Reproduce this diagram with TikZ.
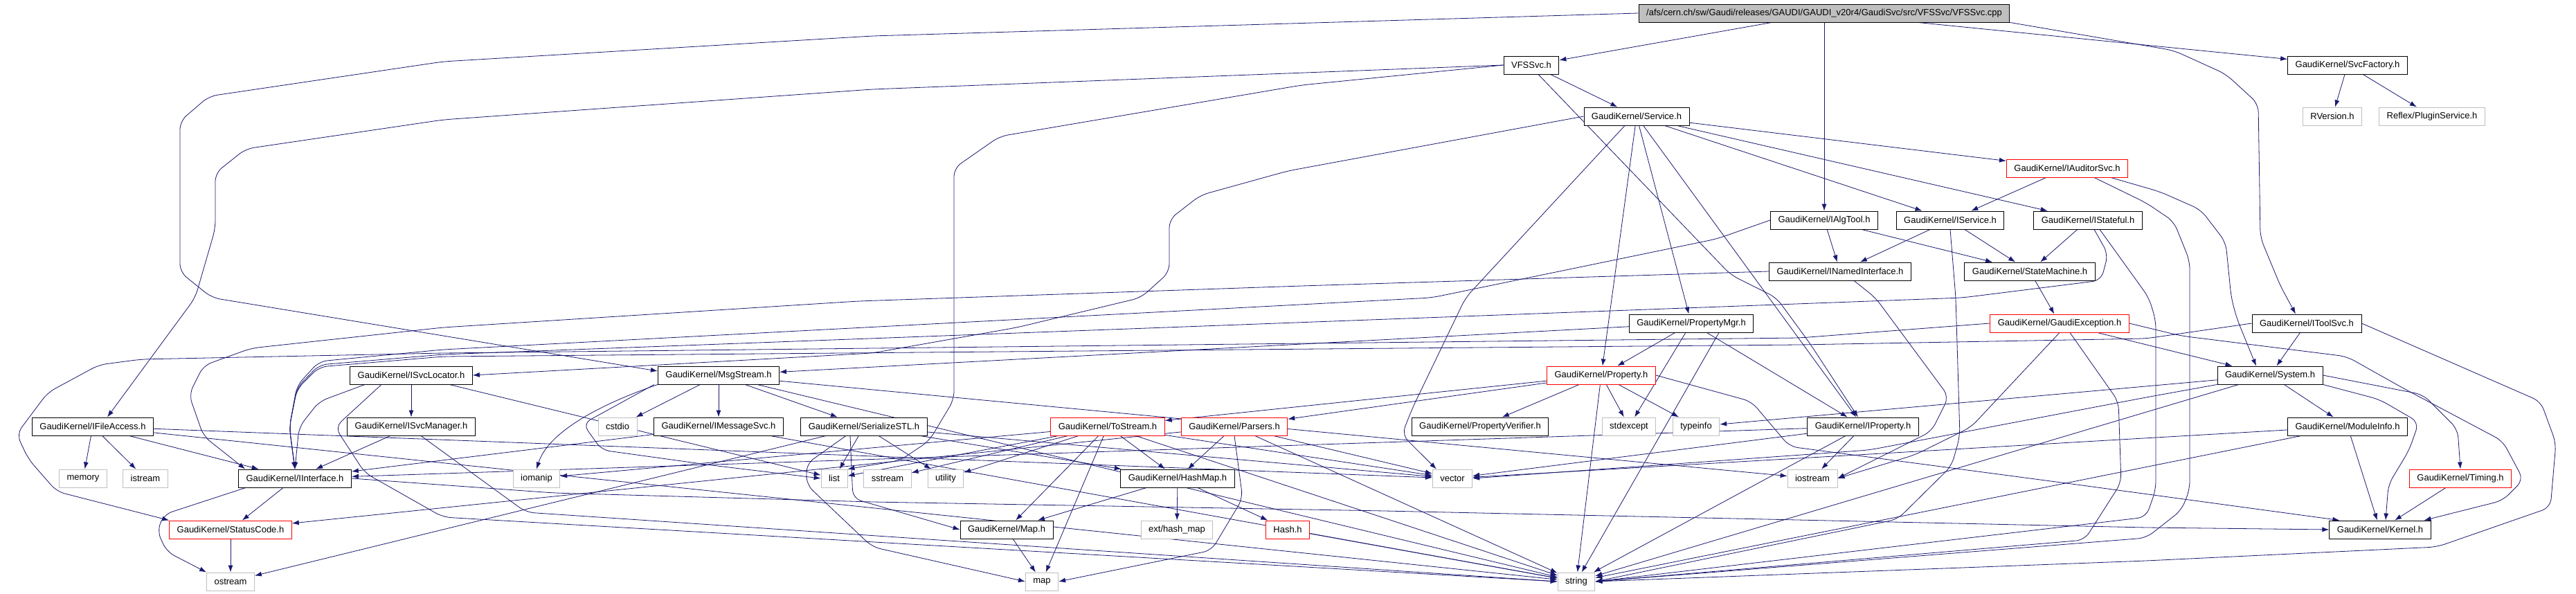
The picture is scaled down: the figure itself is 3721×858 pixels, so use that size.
\documentclass[tikz,border=0pt]{standalone}
\usepackage{fontspec}
\setmainfont{Liberation Sans}
\usetikzlibrary{arrows.meta}
\definecolor{edgeblue}{HTML}{191970}
\definecolor{extgray}{HTML}{BFBFBF}
\pgfdeclarelayer{edges}
\pgfsetlayers{edges,main}

\begin{document}
\begin{tikzpicture}[
  x=1pt, y=-1pt,
  incl/.style={rectangle, draw=black, line width=0.9pt, fill=white,
               minimum height=26pt, inner xsep=11pt, inner ysep=0pt,
               font=\fontsize{13}{15}\selectfont},
  stdinc/.style={incl, draw=extgray},
  redinc/.style={incl, draw=red},
  srcfile/.style={incl, fill=extgray},
  dep/.style={draw=edgeblue, line width=0.8pt, -{Latex[length=10pt, width=7pt]}},
  longdep/.style={dep, rounded corners=12pt},
]
\useasboundingbox (0,0) rectangle (3721,858);

\node[srcfile] (root) at (2635,19) {/afs/cern.ch/sw/Gaudi/releases/GAUDI/GAUDI\_v20r4/GaudiSvc/src/VFSSvc/VFSSvc.cpp};
\node[incl] (vfssvc) at (2212,94) {VFSSvc.h};
\node[incl] (svcfactory) at (3391,94) {GaudiKernel/SvcFactory.h};
\node[incl] (service) at (2364,168) {GaudiKernel/Service.h};
\node[stdinc] (rversion) at (3369,168) {RVersion.h};
\node[stdinc] (plugin) at (3513,168) {Reflex/PluginService.h};
\node[redinc] (iauditor) at (2986,243) {GaudiKernel/IAuditorSvc.h};
\node[incl] (ialgtool) at (2635,318) {GaudiKernel/IAlgTool.h};
\node[incl] (iservice) at (2817,318) {GaudiKernel/IService.h};
\node[incl] (istateful) at (3016,318) {GaudiKernel/IStateful.h};
\node[incl] (inamed) at (2658,392) {GaudiKernel/INamedInterface.h};
\node[incl] (statemachine) at (2932,392) {GaudiKernel/StateMachine.h};
\node[incl] (propertymgr) at (2443,467) {GaudiKernel/PropertyMgr.h};
\node[redinc] (gaudiexc) at (2975,467) {GaudiKernel/GaudiException.h};
\node[incl] (itoolsvc) at (3332,467) {GaudiKernel/IToolSvc.h};
\node[incl] (isvclocator) at (594,542) {GaudiKernel/ISvcLocator.h};
\node[incl] (msgstream) at (1038,542) {GaudiKernel/MsgStream.h};
\node[redinc] (property) at (2313,542) {GaudiKernel/Property.h};
\node[incl] (system) at (3279,542) {GaudiKernel/System.h};
\node[incl] (ifileaccess) at (134,616) {GaudiKernel/IFileAccess.h};
\node[incl] (isvcmanager) at (594,616) {GaudiKernel/ISvcManager.h};
\node[stdinc] (stdcstdio) at (892,616) {cstdio};
\node[incl] (imessagesvc) at (1038,616) {GaudiKernel/IMessageSvc.h};
\node[incl] (serialize) at (1248,616) {GaudiKernel/SerializeSTL.h};
\node[redinc] (tostream) at (1600,616) {GaudiKernel/ToStream.h};
\node[redinc] (parsers) at (1783,616) {GaudiKernel/Parsers.h};
\node[incl] (propverifier) at (2138,616) {GaudiKernel/PropertyVerifier.h};
\node[stdinc] (stdexcept) at (2353,616) {stdexcept};
\node[stdinc] (stdtypeinfo) at (2450,616) {typeinfo};
\node[incl] (iproperty) at (2691,616) {GaudiKernel/IProperty.h};
\node[incl] (moduleinfo) at (3391,616) {GaudiKernel/ModuleInfo.h};
\node[stdinc] (stdmemory) at (120,691) {memory};
\node[stdinc] (stdistream) at (210,691) {istream};
\node[incl] (iinterface) at (426,691) {GaudiKernel/IInterface.h};
\node[stdinc] (stdiomanip) at (775,691) {iomanip};
\node[stdinc] (stdlist) at (1205,691) {list};
\node[stdinc] (stdsstream) at (1282,691) {sstream};
\node[stdinc] (stdutility) at (1366,691) {utility};
\node[incl] (hashmap) at (1701,691) {GaudiKernel/HashMap.h};
\node[stdinc] (stdvector) at (2098,691) {vector};
\node[stdinc] (stdiostream) at (2618,691) {iostream};
\node[redinc] (timing) at (3554,691) {GaudiKernel/Timing.h};
\node[redinc] (statuscode) at (333,765) {GaudiKernel/StatusCode.h};
\node[incl] (maph) at (1454,765) {GaudiKernel/Map.h};
\node[stdinc] (exthashmap) at (1700,765) {ext/hash\_map};
\node[redinc] (hash) at (1860,765) {Hash.h};
\node[incl] (kernel) at (3438,765) {GaudiKernel/Kernel.h};
\node[stdinc] (stdostream) at (333,840) {ostream};
\node[stdinc] (stdmap) at (1505,840) {map};
\node[stdinc] (stdstring) at (2277,840) {string};

\begin{pgfonlayer}{edges}
% VFSSvc.cpp
\draw[dep] (root) -- (vfssvc);
\draw[dep] (root) -- (ialgtool);
\draw[dep] (root) -- (svcfactory);
\draw[longdep] (root.south east) -- (3140,73) -- (3215,107) -- (3262,150) -- (3265,343) -- (3294,413) -- ([xshift=-16pt]itoolsvc.north);
\draw[longdep] (root.west) -- (1260,52) -- (640,89) -- (302,139) -- (260,175) -- (260,393) -- (306,430) -- ([yshift=6pt]msgstream.west);

% VFSSvc.h
\draw[dep] (vfssvc) -- (service);
\draw[longdep] (vfssvc.west) -- (1260,129) -- (640,173) -- (355,215) -- (311,250) -- (311,330) -- (282,430) -- ([xshift=21pt]ifileaccess.north);
\draw[longdep] (vfssvc.west) -- (1880,123) -- (1444,197) -- (1378,243) -- (1378,577) -- (1342,637) -- (1300,665) -- (stdlist.north east);
\draw[longdep] ([xshift=10pt]vfssvc.south) -- (2500,397) -- (2566,430) -- (2615,497) -- ([xshift=-7pt]iproperty.north);

\draw[dep] (svcfactory) -- (rversion);
\draw[dep] (svcfactory) -- (plugin);

% Service.h
\draw[dep] (service) -- (iauditor);
\draw[dep] (service) -- (iservice);
\draw[dep] (service) -- (istateful);
\draw[dep] (service) -- (propertymgr);
\draw[dep] (service) -- (property);
\draw[dep] (service) -- (iproperty);
\draw[longdep] ([xshift=-17pt]service.south) -- (2117,430) -- (2040,590) -- (2025,628) -- ([xshift=6pt]stdvector.north west);
\draw[longdep] (service.west) -- (1860,247) -- (1734,282) -- (1689,317) -- (1689,393) -- (1648,430) -- (1469,473) -- (1260,510) -- (isvclocator.east);

\draw[dep] (iauditor) -- (iservice);
\draw[longdep] ([xshift=63pt]iauditor.south) -- (3120,277) -- (3179,303) -- (3215,350) -- (3223,430) -- (3231,460) -- ([xshift=-20pt]system.north);
\draw[longdep] ([xshift=39pt]iauditor.south) -- (3100,293) -- (3140,320) -- (3163,377) -- (3163,707) -- (3151,737) -- (3100,777) -- (stdstring.east);

\draw[dep] (ialgtool) -- (inamed);
\draw[dep] (ialgtool) -- (statemachine);
\draw[longdep] (ialgtool.west) -- (2480,345) -- (2068,430) -- (640,505) -- (461,522) -- (429,557) -- (418,617) -- (iinterface.north);

\draw[dep] (iservice) -- (inamed);
\draw[dep] (iservice) -- (statemachine);
\draw[longdep] (iservice.south) -- (2825,430) -- (2831,630) -- (2819,673) -- (2741,750) -- (stdstring.east);

\draw[dep] (istateful) -- (statemachine);
\draw[longdep] ([xshift=9pt]istateful.south) -- (3045,367) -- (3035,405) -- (2835,430) -- (640,512) -- (461,527) -- (429,560) -- (418,617) -- (iinterface.north);
\draw[longdep] ([xshift=17pt]istateful.south) -- (3104,430) -- (3114,463) -- (3114,707) -- (3100,747) -- (stdstring.east);

\draw[longdep] (inamed.west) -- (1880,413) -- (1240,435) -- (640,473) -- (363,503) -- (294,528) -- (273,570) -- (294,630) -- ([xshift=10pt]iinterface.north west);
\draw[longdep] ([xshift=20pt]inamed.south) -- (2709,430) -- (2815,573) -- (2790,623) -- (stdiostream.east);

\draw[dep] (statemachine) -- (gaudiexc);

% PropertyMgr.h
\draw[dep] (propertymgr) -- (property);
\draw[dep] (propertymgr) -- (stdexcept);
\draw[dep] (propertymgr) -- (iproperty);
\draw[dep] ([xshift=40pt]propertymgr.south) -- (stdstring);
\draw[dep] (propertymgr) -- (msgstream);

% GaudiException.h
\draw[dep] (gaudiexc) -- (system);
\draw[longdep] (gaudiexc.south) -- (2847,617) -- (2766,657) -- (stdiostream.east);
\draw[longdep] ([xshift=15pt]gaudiexc.south) -- (3060,580) -- (3064,697) -- (3011,780) -- (stdstring.east);
\draw[longdep] (gaudiexc.east) -- (3150,485) -- (3390,515) -- (3470,560) -- (3615,637) -- (3645,693) -- (3615,723) -- ([xshift=-10pt]kernel.north east);
\draw[longdep] (gaudiexc.west) -- (2600,488) -- (640,510) -- (204,519) -- (143,527) -- (69,567) -- (24,627) -- (41,663) -- (82,710) -- (statuscode.north west);

% IToolSvc.h
\draw[dep] (itoolsvc) -- (system);
\draw[longdep] (itoolsvc.west) -- (3100,489) -- (2600,498) -- (640,515) -- (461,530) -- (429,562) -- (418,617) -- (iinterface.north);
\draw[longdep] (itoolsvc.east) -- (3670,580) -- (3692,640) -- (3684,733) -- (3520,790) -- (3100,810) -- (stdstring.east);

% ISvcLocator.h, ISvcManager.h
\draw[dep] (isvclocator) -- (isvcmanager);
\draw[longdep] ([xshift=-67pt]isvclocator.south) -- (461,580) -- (432,617) -- (iinterface.north);
\draw[dep] (isvclocator) -- (stdlist);
\draw[longdep] ([xshift=-43pt]isvclocator.south) -- (484,617) -- (527,683) -- (640,747) -- (stdstring.west);
\draw[dep] (isvcmanager) -- (iinterface);
\draw[longdep] ([xshift=14pt]isvcmanager.south) -- (760,740) -- (stdstring.west);

% MsgStream.h
\draw[dep] (msgstream) -- (stdcstdio);
\draw[dep] (msgstream) -- (imessagesvc);
\draw[dep] (msgstream) -- (serialize);
\draw[dep] (msgstream.south west) .. controls (850,590) and (790,630) .. (stdiomanip.north);
\draw[longdep] ([xshift=-5pt]msgstream.south west) -- (842,612) -- (869,650) -- (1028,672) -- (stdlist.west);
\draw[dep] (msgstream) -- (stdstring);
\draw[dep] (msgstream) -- (stdiostream);

% Property.h
\draw[dep] (property) -- (propverifier);
\draw[dep] (property) -- (stdexcept);
\draw[dep] (property) -- (stdtypeinfo);
\draw[dep] (property) -- (stdstring);
\draw[dep] (property) -- (tostream);
\draw[dep] (property) -- (parsers);
\draw[longdep] (property.east) -- (2530,580) -- (2585,645) -- (3000,700) -- ([xshift=15pt]kernel.north west);

% System.h
\draw[dep] (system) -- (moduleinfo);
\draw[longdep] (system.east) -- (3500,570) -- (3550,620) -- (timing.north);
\draw[longdep] (system.south east) -- (3437,577) -- (3494,610) -- (3480,650) -- (3450,700) -- ([xshift=8pt]kernel.north);
\draw[dep] (system) -- (stdtypeinfo);
\draw[longdep] (system.south west) -- (3100,574) -- (2700,650) -- (stdvector.east);
\draw[dep] (system) -- (stdstring);

% IFileAccess.h
\draw[dep] (ifileaccess) -- (stdmemory);
\draw[dep] (ifileaccess) -- (stdistream);
\draw[dep] (ifileaccess) -- (iinterface);
\draw[dep] (ifileaccess) -- (stdvector);
\draw[dep] (ifileaccess) -- (stdstring);

\draw[dep] (imessagesvc) -- (iinterface);
\draw[dep] (imessagesvc) -- (stdstring);

% SerializeSTL.h
\draw[dep] (serialize) -- (stdlist);
\draw[dep] (serialize) -- (stdutility);
\draw[dep] (serialize) -- (stdostream);
\draw[longdep] ([xshift=-26pt]serialize.south) -- (1165,670) -- (1165,700) -- (1260,790) -- (stdmap.west);
\draw[longdep] ([xshift=-20pt]serialize.south) -- (1232,720) -- (maph.west);
\draw[dep] (serialize) -- (hashmap);
\draw[dep] (serialize) -- (stdvector);

% ToStream.h
\draw[dep] (tostream) -- (stdiomanip);
\draw[dep] (tostream) -- (stdlist);
\draw[dep] (tostream) -- (stdsstream);
\draw[dep] (tostream) -- (stdutility);
\draw[dep] (tostream) -- (hashmap);
\draw[dep] (tostream) -- (maph);
\draw[dep] (tostream) -- (stdmap);
\draw[dep] (tostream) -- (stdvector);
\draw[dep] (tostream) -- (stdstring);

% Parsers.h
\draw[dep] (parsers) -- (statuscode);
\draw[dep] (parsers) -- (hashmap);
\draw[dep] (parsers) -- (stdvector);
\draw[longdep] (parsers.south) -- (1795,720) -- (1750,795) -- (stdmap.east);
\draw[dep] (parsers) -- (stdstring);

\draw[dep] (hashmap) -- (maph);
\draw[dep] (hashmap) -- (exthashmap);
\draw[dep] (hashmap) -- (hash);
\draw[dep] (maph) -- (stdmap);
\draw[dep] (hash) -- (stdstring);

\draw[dep] (iproperty) -- (iinterface);
\draw[dep] (iproperty) -- (stdiostream);
\draw[dep] (iproperty) -- (stdvector);
\draw[dep] (iproperty) -- (stdstring);

\draw[dep] (moduleinfo) -- (kernel);
\draw[dep] (moduleinfo) -- (stdvector);
\draw[dep] (moduleinfo) -- (stdstring);
\draw[dep] (timing) -- (kernel);

% IInterface.h, StatusCode.h
\draw[dep] (iinterface) -- (statuscode);
\draw[longdep] ([xshift=-71pt]iinterface.south) -- (237,743) -- (227,767) -- (241,797) -- (stdostream.north west);
\draw[longdep] (iinterface.east) -- (800,712) -- (1260,725) -- (2000,738) -- (3100,762) -- (kernel.west);
\draw[dep] (statuscode) -- (stdostream);
\end{pgfonlayer}

\end{tikzpicture}
\end{document}
